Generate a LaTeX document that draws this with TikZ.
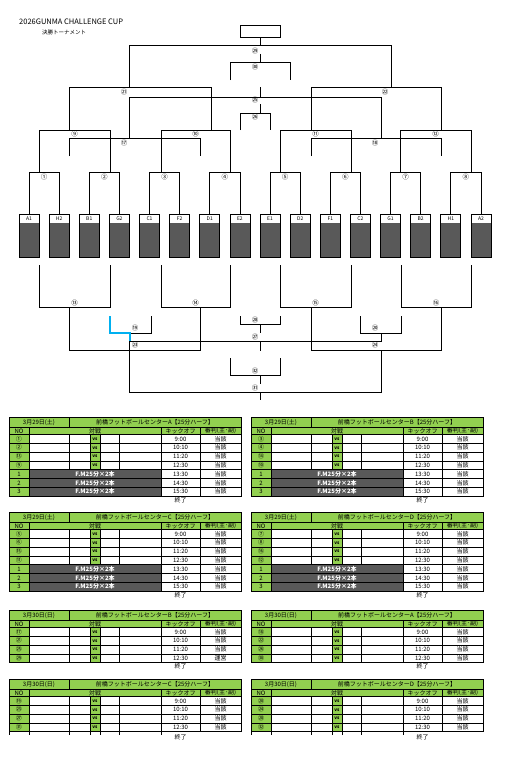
\documentclass[tikz,border=0pt]{standalone}
\usepackage{fontspec}
\setmainfont{Noto Sans CJK JP}
\usetikzlibrary{calc}
\definecolor{cellgreen}{HTML}{92D050}
\definecolor{slotgray}{HTML}{595959}
\definecolor{pathblue}{HTML}{00B0F0}
\tikzset{bracket/.style={draw, line width=0.8pt}}
\tikzset{bluepath/.style={draw=pathblue, line width=1.3pt}}
\tikzset{grid/.style={draw, line width=0.5pt}}
\tikzset{matchno/.style={inner sep=0pt, font=\fontsize{6.5}{7}\selectfont}}
\tikzset{team/.style={draw, line width=0.8pt, outer sep=0pt, minimum width=20pt,
  minimum height=9pt, inner sep=0pt, font=\fontsize{5}{5}\selectfont}}
\tikzset{cell/.style={inner sep=0pt, font=\fontsize{6}{7}\selectfont}}

% 表の見出し: 名前, x, y, 日付, 会場
\newcommand{\tabhead}[5]{%
  \fill[cellgreen] (#2,#3) rectangle ++(232,17.5);
  \draw[grid] (#2,#3) rectangle ++(232,17.5);
  \draw[grid] (#2,#3+10.5) -- ++(232,0);
  \draw[grid] (#2+60,#3) -- ++(0,10.5);
  \foreach \col in {20,152,191} \draw[grid] (#2+\col,#3+10.5) -- ++(0,7);
  \node[cell] (#1-date) at (#2+30,#3+5.25) {#4};
  \node[cell] (#1-title) at (#2+146,#3+5.25) {前橋フットボールセンター#5【25分ハーフ】};
  \node[cell] (#1-no) at (#2+10,#3+14) {NO};
  \node[cell] (#1-vs) at (#2+86,#3+14) {対戦};
  \node[cell] (#1-ko) at (#2+171.5,#3+14) {キックオフ};
  \node[cell] (#1-ref) at (#2+211.5,#3+14) {審判(主･副)};
}
% 試合行: 名前, x, y, 番号, 時刻, 審判
\newcommand{\gamerow}[6]{%
  \fill[cellgreen] (#2,#3) rectangle ++(20,8.8);
  \fill[cellgreen] (#2+81,#3) rectangle ++(10,8.8);
  \draw[grid] (#2,#3) rectangle ++(232,8.8);
  \foreach \col in {20,60,81,91,110,152,191} \draw[grid] (#2+\col,#3) -- ++(0,8.8);
  \node[cell] (#1-no) at (#2+10,#3+4.4) {#4};
  \node[cell, font=\fontsize{4.5}{5}\selectfont\bfseries] (#1-vs) at (#2+86,#3+4.6) {vs};
  \node[cell] (#1-ko) at (#2+171.5,#3+4.4) {#5};
  \node[cell] (#1-ref) at (#2+211.5,#3+4.4) {#6};
}
% F.M 行: 名前, x, y, 番号, 時刻
\newcommand{\fmrow}[5]{%
  \fill[cellgreen] (#2,#3) rectangle ++(20,8.8);
  \fill[slotgray] (#2+20,#3) rectangle ++(132,8.8);
  \draw[grid] (#2,#3) rectangle ++(232,8.8);
  \foreach \col in {20,152,191} \draw[grid] (#2+\col,#3) -- ++(0,8.8);
  \node[cell] (#1-no) at (#2+10,#3+4.4) {#4};
  \node[cell, text=white, font=\fontsize{6}{7}\selectfont\bfseries] (#1-fm) at (#2+86,#3+4.4) {F.M25分×2本};
  \node[cell] (#1-ko) at (#2+171.5,#3+4.4) {#5};
  \node[cell] (#1-ref) at (#2+211.5,#3+4.4) {当該};
}

\begin{document}
\begin{tikzpicture}[x=1pt, y=-1pt]
  \useasboundingbox (0,0) rectangle (504,760);

  % タイトル
  \node[anchor=west, inner sep=0pt, font=\fontsize{7.5}{8}\selectfont] (title) at (19,22) {2026GUNMA CHALLENGE CUP};
  \node[anchor=west, inner sep=0pt, font=\fontsize{5.5}{6}\selectfont] (subtitle) at (42,32) {決勝トーナメント};

  % チーム枠
  \foreach \t [count=\i] in {A1,H2,B1,G2,C1,F2,D1,E2,E1,D2,F1,C2,G1,B2,H1,A2}{
    \node[team, anchor=north] (\t) at ({29+30.13*(\i-1)},214) {\t};
    \fill[slotgray] (\t.south west) rectangle ++(20,34);
    \draw[line width=0.8pt] (\t.north west) rectangle ++(20,43);
  }

  % 1回戦
  \foreach \a/\b/\lbl [count=\k] in {A1/H2/①,B1/G2/②,C1/F2/③,D1/E2/④,E1/D2/⑤,F1/C2/⑥,G1/B2/⑦,H1/A2/⑧}{
    \draw[bracket] (\a.north) -- ++(0,-42) -| (\b.north);
    \node[matchno] (r1-\k) at ($(\a.north)!0.5!(\b.north)+(0,-37)$) {\lbl};
  }

  % 準々決勝
  \foreach \xa/\xb/\lbl [count=\k] in {39/110/⑨,161/230/⑩,280/351/⑪,400/471/⑫}{
    \draw[bracket] (\xa,172) |- (\xb,130) -- (\xb,172);
    \node[matchno] (qf-\k) at ({(\xa+\xb)/2},134) {\lbl};
  }

  % 準決勝・決勝
  \node[draw, line width=0.8pt, minimum width=40pt, minimum height=12pt] (champ) at (260,31) {};
  \draw[bracket] (champ.south) -- (260,45);
  \draw[bracket] (129,87) |- (391,45) -- (391,87);
  \node[matchno] (final) at (255,51) {㉙};
  \draw[bracket] (260,54) -- (260,62);
  \draw[bracket] (230,80) |- (290,62) -- (290,80);
  \node[matchno] (third) at (255,67) {㉚};
  \draw[bracket] (69,130) |- (211,87) -- (211,130);
  \node[matchno] (sf-1) at (124,92) {㉑};
  \draw[bracket] (311,130) |- (441,87) -- (441,130);
  \node[matchno] (sf-2) at (385,92) {㉒};

  % 5-8位
  \draw[bracket] (260,87) -- (260,97);
  \draw[bracket] (129,138) |- (381,97) -- (381,138);
  \node[matchno] (fifth) at (255,100) {㉕};
  \draw[bracket] (260,104) -- (260,113);
  \draw[bracket] (240,130) |- (270,113) -- (270,130);
  \node[matchno] (seventh) at (255,117) {㉖};
  \draw[bracket] (69,156) |- (200,138) -- (200,156);
  \node[matchno] (cs-1) at (124,143) {⑰};
  \draw[bracket] (311,156) |- (441,138) -- (441,156);
  \node[matchno] (cs-2) at (375,143) {⑱};

  % 1回戦敗者
  \foreach \xa/\xb/\lbl [count=\k] in {39/110/⑬,161/230/⑭,280/351/⑮,401/471/⑯}{
    \draw[bracket] (\xa,265) |- (\xb,307) -- (\xb,265);
    \node[matchno] (lo-\k) at ({(\xa+\xb)/2},303) {\lbl};
  }
  \draw[bracket] (69,307) |- (200,350) -- (200,307);
  \node[matchno] (lw-1) at (135,345) {㉓};
  \draw[bracket] (311,307) |- (441,350) -- (441,307);
  \node[matchno] (lw-2) at (375,345) {㉔};
  \draw[bracket] (130,333) -- (151,333) -- (151,316);
  \draw[bluepath] (110,316) |- (130,333) -- (130,341);
  \node[matchno] (ll-1) at (135,328) {⑲};
  \draw[bracket] (360,316) |- (401,333) -- (401,316);
  \node[matchno] (ll-2) at (375,328) {⑳};
  \draw[bracket] (129,392) |- (381,341) -- (381,333);
  \node[matchno] (p13) at (255,337) {㉗};
  \draw[bracket] (381,350) |- (129,392);
  \node[matchno] (p9) at (255,388) {㉛};
  \draw[bracket] (240,316) |- (280,324) -- (280,316);
  \node[matchno] (p15) at (255,320) {㉘};
  \draw[bracket] (260,324) -- (260,333);
  \draw[bracket] (260,342) -- (260,351);
  \draw[bracket] (230,358) |- (280,375) -- (280,358);
  \node[matchno] (p11) at (255,371) {㉜};
  \draw[bracket] (260,375) -- (260,384);
  \draw[bracket] (260,392) -- (260,400);

  % 3月29日 A
  \tabhead{s29a}{9}{417}{3月29日(土)}{A}
  \foreach \no/\ko [count=\k] in {①/9:00,②/10:10,⑬/11:20,⑨/12:30}
    {\gamerow{s29a-\k}{9}{425.7+8.8*\k}{\no}{\ko}{当該}}
  \foreach \k/\ko in {1/13:30,2/14:30,3/15:30}
    {\fmrow{s29a-f\k}{9}{460.9+8.8*\k}{\k}{\ko}}
  \node[cell] (s29a-end) at (180.5,500.5) {終了};

  % 3月29日 B
  \tabhead{s29b}{251}{417}{3月29日(土)}{B}
  \foreach \no/\ko [count=\k] in {③/9:00,④/10:10,⑭/11:20,⑩/12:30}
    {\gamerow{s29b-\k}{251}{425.7+8.8*\k}{\no}{\ko}{当該}}
  \foreach \k/\ko in {1/13:30,2/14:30,3/15:30}
    {\fmrow{s29b-f\k}{251}{460.9+8.8*\k}{\k}{\ko}}
  \node[cell] (s29b-end) at (422.5,500.5) {終了};

  % 3月29日 C
  \tabhead{s29c}{9}{512}{3月29日(土)}{C}
  \foreach \no/\ko [count=\k] in {⑤/9:00,⑥/10:10,⑮/11:20,⑪/12:30}
    {\gamerow{s29c-\k}{9}{520.7+8.8*\k}{\no}{\ko}{当該}}
  \foreach \k/\ko in {1/13:30,2/14:30,3/15:30}
    {\fmrow{s29c-f\k}{9}{555.9+8.8*\k}{\k}{\ko}}
  \node[cell] (s29c-end) at (180.5,595.5) {終了};

  % 3月29日 D
  \tabhead{s29d}{251}{512}{3月29日(土)}{D}
  \foreach \no/\ko [count=\k] in {⑦/9:00,⑧/10:10,⑯/11:20,⑫/12:30}
    {\gamerow{s29d-\k}{251}{520.7+8.8*\k}{\no}{\ko}{当該}}
  \foreach \k/\ko in {1/13:30,2/14:30,3/15:30}
    {\fmrow{s29d-f\k}{251}{555.9+8.8*\k}{\k}{\ko}}
  \node[cell] (s29d-end) at (422.5,595.5) {終了};

  % 3月30日 B
  \tabhead{s30b}{9}{610}{3月30日(日)}{B}
  \foreach \no/\ko/\rf [count=\k] in {⑰/9:00/当該,㉑/10:10/当該,㉕/11:20/当該,㉙/12:30/運営}
    {\gamerow{s30b-\k}{9}{618.7+8.8*\k}{\no}{\ko}{\rf}}
  \node[cell] (s30b-end) at (180.5,666.5) {終了};

  % 3月30日 A
  \tabhead{s30a}{251}{610}{3月30日(日)}{A}
  \foreach \no/\ko [count=\k] in {⑱/9:00,㉒/10:10,㉖/11:20,㉚/12:30}
    {\gamerow{s30a-\k}{251}{618.7+8.8*\k}{\no}{\ko}{当該}}
  \node[cell] (s30a-end) at (422.5,666.5) {終了};

  % 3月30日 C
  \tabhead{s30c}{9}{679}{3月30日(日)}{C}
  \foreach \no/\ko [count=\k] in {⑲/9:00,㉓/10:10,㉗/11:20,㉛/12:30}
    {\gamerow{s30c-\k}{9}{687.7+8.8*\k}{\no}{\ko}{当該}}
  \foreach \col in {0,20,60,81,91,110,152} \draw[grid] (9+\col,731.7) -- ++(0,3);
  \node[cell] (s30c-end) at (180.5,737) {終了};

  % 3月30日 D
  \tabhead{s30d}{251}{679}{3月30日(日)}{D}
  \foreach \no/\ko [count=\k] in {⑳/9:00,㉔/10:10,㉘/11:20,㉜/12:30}
    {\gamerow{s30d-\k}{251}{687.7+8.8*\k}{\no}{\ko}{当該}}
  \foreach \col in {0,20,60,81,91,110,152} \draw[grid] (251+\col,731.7) -- ++(0,3);
  \node[cell] (s30d-end) at (422.5,737) {終了};
\end{tikzpicture}
\end{document}
